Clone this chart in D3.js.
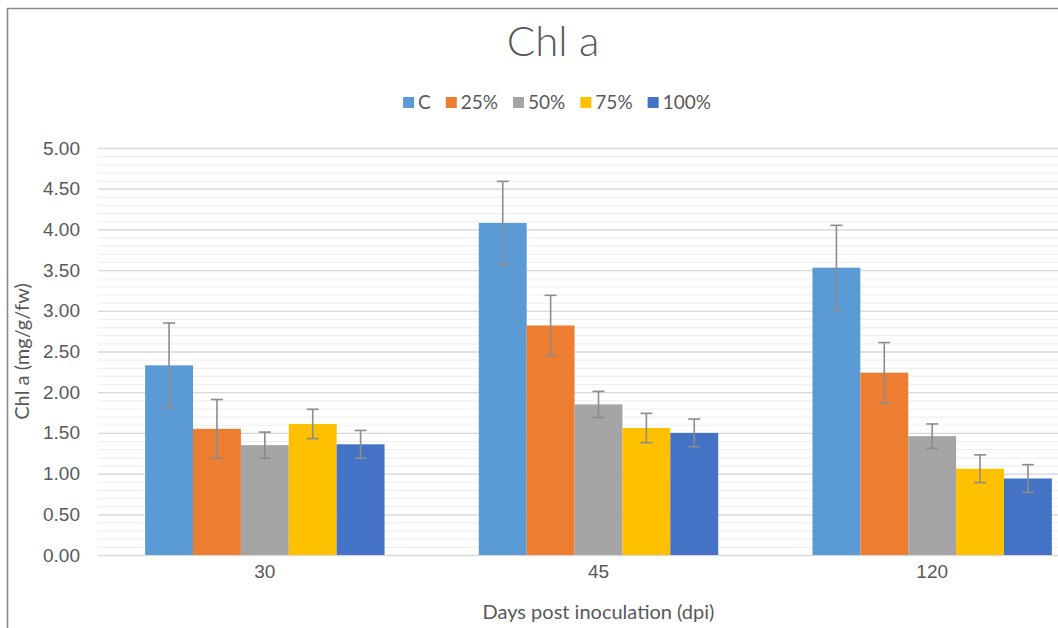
<!DOCTYPE html>
<html>
<head>
<meta charset="utf-8">
<script src="https://cdn.jsdelivr.net/npm/d3@7"></script>
<style>
  body { margin: 0; background: #fff; }
  svg { display: block; font-family: Lato, "Open Sans", sans-serif; }
</style>
</head>
<body>
<div id="chart"></div>
<script>
// Data
const categories = ["30", "45", "120"];
const seriesNames = ["C", "25%", "50%", "75%", "100%"];
const seriesColors = ["#5B9BD5", "#ED7D31", "#A5A5A5", "#FFC000", "#4472C4"];

const meanC = [2.33, 4.08, 3.53];
const mean25 = [1.55, 2.82, 2.24];
const mean50 = [1.35, 1.85, 1.46];
const mean75 = [1.61, 1.56, 1.06];
const mean100 = [1.36, 1.50, 0.94];

const errC = [0.52, 0.51, 0.52];
const err25 = [0.36, 0.37, 0.37];
const err50 = [0.16, 0.16, 0.15];
const err75 = [0.18, 0.18, 0.17];
const err100 = [0.17, 0.17, 0.17];

const yTicks = [0, 0.5, 1, 1.5, 2, 2.5, 3, 3.5, 4, 4.5, 5];

const means = [meanC, mean25, mean50, mean75, mean100];
const errs = [errC, err25, err50, err75, err100];

// flat table for the bars
const rows = [];
categories.forEach((cat, ci) => {
    seriesNames.forEach((s, si) => {
        rows.push({ cat, series: s, value: means[si][ci], err: errs[si][ci], color: seriesColors[si] });
    });
});

const W = 1058, H = 628;
// plot area (the original chart is cut off on the right)
const plotLeft = 98, plotRight = 1099, plotTop = 148, plotBottom = 555;
const textColor = "#595959";

const svg = d3.select("#chart").append("svg")
    .attr("width", W)
    .attr("height", H);

// chart frame (only left and top edges are visible)
svg.append("path")
    .attr("d", `M7.5,${H} L7.5,8.5 L${W},8.5`)
    .attr("fill", "none")
    .attr("stroke", "#8a8a8a")
    .attr("stroke-width", 1.6);

const x0 = d3.scaleBand()
    .domain(categories)
    .range([plotLeft, plotRight])
    .paddingInner(0.2825)
    .paddingOuter(0.14125);

const x1 = d3.scaleBand()
    .domain(seriesNames)
    .range([0, x0.bandwidth()])
    .padding(0);

const y = d3.scaleLinear()
    .domain([0, 5])
    .range([plotBottom, plotTop]);

// minor gridlines
svg.append("g")
    .attr("transform", `translate(${plotLeft},0)`)
    .call(d3.axisLeft(y).tickValues(d3.range(0, 5.001, 0.1)).tickSize(-(plotRight - plotLeft)).tickFormat(""))
    .call(g => g.select(".domain").remove())
    .call(g => g.selectAll("line").attr("stroke", "#F0F0F0").attr("stroke-width", 1.2));

// major gridlines
svg.append("g")
    .attr("transform", `translate(${plotLeft},0)`)
    .call(d3.axisLeft(y).tickValues(yTicks).tickSize(-(plotRight - plotLeft)).tickFormat(""))
    .call(g => g.select(".domain").remove())
    .call(g => g.selectAll("line").attr("stroke", "#D9D9D9").attr("stroke-width", 1.3));

// y axis labels
svg.append("g")
    .attr("transform", `translate(${plotLeft},0)`)
    .call(d3.axisLeft(y).tickValues(yTicks).tickSize(0).tickPadding(18).tickFormat(d3.format(".2f")))
    .call(g => g.select(".domain").remove())
    .call(g => g.selectAll("text").attr("fill", textColor).style("font-size", "19px"));

// bars
svg.append("g")
    .selectAll("rect")
    .data(rows)
    .join("rect")
    .attr("x", d => x0(d.cat) + x1(d.series))
    .attr("y", d => y(d.value))
    .attr("width", x1.bandwidth())
    .attr("height", d => y(0) - y(d.value))
    .attr("fill", d => d.color);

// error bars
const capW = 12;
const eb = svg.append("g")
    .attr("stroke", "#8C8C8C")
    .attr("stroke-width", 1.6)
    .selectAll("g")
    .data(rows)
    .join("g")
    .attr("transform", d => `translate(${x0(d.cat) + x1(d.series) + x1.bandwidth() / 2},0)`);

eb.append("line")
    .attr("y1", d => y(d.value + d.err))
    .attr("y2", d => y(d.value - d.err));
eb.append("line")
    .attr("x1", -capW / 2).attr("x2", capW / 2)
    .attr("y1", d => y(d.value + d.err)).attr("y2", d => y(d.value + d.err));
eb.append("line")
    .attr("x1", -capW / 2).attr("x2", capW / 2)
    .attr("y1", d => y(d.value - d.err)).attr("y2", d => y(d.value - d.err));

// x axis labels
svg.append("g")
    .attr("transform", `translate(0,${plotBottom})`)
    .call(d3.axisBottom(x0).tickSize(0).tickPadding(10))
    .call(g => g.select(".domain").remove())
    .call(g => g.selectAll("text").attr("fill", textColor).style("font-size", "19px"));

// axis titles
svg.append("text")
    .attr("x", (plotLeft + plotRight) / 2)
    .attr("y", 619)
    .attr("text-anchor", "middle")
    .attr("fill", textColor)
    .style("font-size", "20px")
    .text("Days post inoculation (dpi)");

svg.append("text")
    .attr("transform", `translate(29,${(plotTop + plotBottom) / 2}) rotate(-90)`)
    .attr("text-anchor", "middle")
    .attr("fill", textColor)
    .style("font-size", "20px")
    .text("Chl a (mg/g/fw)");

// title
svg.append("text")
    .attr("x", 553)
    .attr("y", 56)
    .attr("text-anchor", "middle")
    .attr("fill", textColor)
    .style("font-size", "42px")
    .style("font-weight", 300)
    .text("Chl a");

// legend, centred under the title
const legend = svg.append("g");
const items = legend.selectAll("g")
    .data(seriesNames)
    .join("g");
items.append("rect")
    .attr("width", 11).attr("height", 11)
    .attr("y", -12)
    .attr("fill", (d, i) => seriesColors[i]);
items.append("text")
    .attr("x", 15)
    .attr("fill", textColor)
    .style("font-size", "19px")
    .text(d => d);

let offset = 0;
items.each(function () {
    const w = 15 + d3.select(this).select("text").node().getComputedTextLength();
    d3.select(this).attr("transform", `translate(${offset},0)`);
    offset += w + 15;
});
const legendW = offset - 15;
legend.attr("transform", `translate(${557 - legendW / 2},109)`);
</script>
</body>
</html>
